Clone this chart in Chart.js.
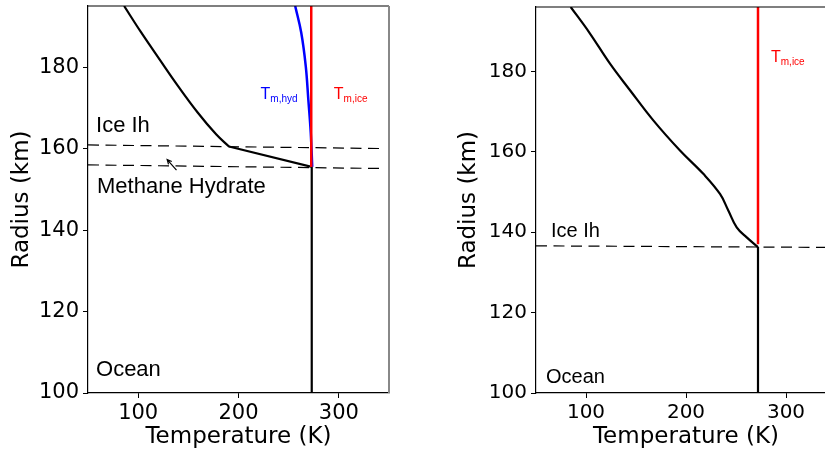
<!DOCTYPE html>
<html>
<head>
<meta charset="utf-8">
<script src="https://cdn.jsdelivr.net/npm/chart.js@4.4.1/dist/chart.umd.min.js"></script>
<style>
body { margin: 0; background: #fff; overflow: hidden; width: 825px; height: 452px; position: relative; }
canvas { position: absolute; top: 0; }
#left { left: 0; }
#right { left: 449px; }
</style>
</head>
<body>
<canvas id="left" width="400" height="452"></canvas>
<canvas id="right" width="387" height="452"></canvas>
<script>
// left panel: ice Ih over a methane hydrate layer
var leftIceT = [86, 103, 121.3, 139.6, 159.5, 177.7, 190.5];
var leftIceR = [195, 188.5, 181.9, 175.4, 168.8, 163.5, 160.5];
var leftHydT = [190.5, 273, 273];
var leftHydR = [160.5, 155.5, 100];
var leftMeltHydT = [256.5, 262.5, 267, 269.6, 272, 273.5];
var leftMeltHydR = [195, 188.5, 180.3, 172, 163.9, 155.5];
var leftMeltIceT = [272.5, 272.5];
var leftMeltIceR = [155.5, 195];
var leftTopBoundT = [50, 346];
var leftTopBoundR = [160.9, 160.0];
var leftLowBoundT = [50, 346];
var leftLowBoundR = [156.0, 155.1];
var leftArrowT = [138.2, 128.9]; // tail, head
var leftArrowR = [154.7, 157.3];

// right panel: ice Ih only
var rightIceT = [84.7, 104, 124, 144, 167.3, 194, 217.3, 234, 242.3, 250.7, 260.7, 272];
var rightIceR = [196, 189.4, 181.9, 175.3, 167.8, 160.3, 154.5, 149.5, 145.4, 141.2, 138.7, 136.3];
var rightOceanT = [272, 272];
var rightOceanR = [136.3, 100];
var rightMeltIceT = [272, 272];
var rightMeltIceR = [137, 196];
var rightBoundT = [50, 350];
var rightBoundR = [136.6, 136.2];

var xTicks = [100, 200, 300];
var yTicks = [100, 120, 140, 160, 180];

function pts(xs, ys) {
    return xs.map(function (x, i) { return { x: x, y: ys[i] }; });
}

function line(xs, ys, color, width, extra) {
    var ds = {
        data: pts(xs, ys),
        showLine: true,
        borderColor: color,
        borderWidth: width,
        pointRadius: 0,
        fill: false,
        tension: 0
    };
    for (var k in extra) ds[k] = extra[k];
    return ds;
}

var smooth = { tension: 0.4 };
var dashed = { borderDash: [11, 6.5] };

var framePlugin = {
    id: 'frame',
    afterDatasetsDraw: function (chart, args, opts) {
        var a = chart.chartArea, ctx = chart.ctx;
        var sx = chart.scales.x, sy = chart.scales.y;
        ctx.save();
        ctx.strokeStyle = '#000';
        ctx.lineWidth = 1.2;
        ctx.beginPath();
        ctx.moveTo(a.left, a.top);
        ctx.lineTo(a.right, a.top);
        ctx.stroke();
        if (opts.rightSpine) {
            ctx.strokeStyle = '#888';
            ctx.lineWidth = 2;
            ctx.beginPath();
            ctx.moveTo(a.right, a.top);
            ctx.lineTo(a.right, a.bottom);
            ctx.stroke();
        }

        (opts.notes || []).forEach(function (n) {
            var px = sx.getPixelForValue(n.x), py = sy.getPixelForValue(n.y);
            ctx.fillStyle = n.color || '#000';
            ctx.textBaseline = 'alphabetic';
            ctx.textAlign = 'left';
            ctx.font = n.size + 'px "Liberation Sans", Arial, sans-serif';
            ctx.fillText(n.text, px, py);
            if (n.sub) {
                var w = ctx.measureText(n.text).width;
                ctx.font = n.subSize + 'px "Liberation Sans", Arial, sans-serif';
                ctx.fillText(n.sub, px + w, py + 3);
            }
        });

        if (opts.arrow) {
            var tx = sx.getPixelForValue(opts.arrow.t[0]), ty = sy.getPixelForValue(opts.arrow.r[0]);
            var hx = sx.getPixelForValue(opts.arrow.t[1]), hy = sy.getPixelForValue(opts.arrow.r[1]);
            var ang = Math.atan2(hy - ty, hx - tx);
            ctx.strokeStyle = '#000';
            ctx.lineWidth = 1.2;
            ctx.beginPath();
            ctx.moveTo(tx, ty);
            ctx.lineTo(hx, hy);
            ctx.moveTo(hx - 5 * Math.cos(ang - 0.45), hy - 5 * Math.sin(ang - 0.45));
            ctx.lineTo(hx, hy);
            ctx.lineTo(hx - 5 * Math.cos(ang + 0.45), hy - 5 * Math.sin(ang + 0.45));
            ctx.stroke();
        }
        ctx.restore();
    }
};

function axes(xMax, yMax, tickSize, yWidth, yTitlePad) {
    var tickFont = { family: '"DejaVu Sans", sans-serif', size: tickSize };
    var titleFont = { family: '"DejaVu Sans", sans-serif', size: 23 };
    return {
        x: {
            type: 'linear', min: 50, max: xMax,
            afterBuildTicks: function (s) { s.ticks = xTicks.map(function (v) { return { value: v }; }); },
            afterFit: function (s) { s.height = 59; s.paddingLeft = 0; s.paddingRight = 0; },
            ticks: { color: '#000', font: tickFont, padding: 3, maxRotation: 0 },
            grid: { display: true, drawOnChartArea: false, tickLength: 5, tickColor: '#000' },
            border: { display: true, color: '#000', width: 1.2 },
            title: { display: true, text: 'Temperature (K)', color: '#000', font: titleFont, padding: { top: 0, bottom: 1 } }
        },
        y: {
            type: 'linear', min: 100, max: yMax,
            afterBuildTicks: function (s) { s.ticks = yTicks.map(function (v) { return { value: v }; }); },
            afterFit: function (s) { s.width = yWidth; s.paddingTop = 0; s.paddingBottom = 0; },
            ticks: { color: '#000', font: tickFont, padding: 4 },
            grid: { display: true, drawOnChartArea: false, tickLength: 5, tickColor: '#000' },
            border: { display: true, color: '#000', width: 1.2 },
            title: { display: true, text: 'Radius (km)', color: '#000', font: titleFont, padding: { top: yTitlePad, bottom: 0 } }
        }
    };
}

new Chart(document.getElementById('left'), {
    type: 'scatter',
    data: {
        datasets: [
            line(leftMeltIceT, leftMeltIceR, '#ff0000', 2.5),
            line(leftMeltHydT, leftMeltHydR, '#0000ff', 2.5, smooth),
            line(leftIceT, leftIceR, '#000', 2.2, smooth),
            line(leftHydT, leftHydR, '#000', 2.2),
            line(leftTopBoundT, leftTopBoundR, '#000', 1.2, dashed),
            line(leftLowBoundT, leftLowBoundR, '#000', 1.2, dashed)
        ]
    },
    options: {
        responsive: false,
        animation: false,
        devicePixelRatio: 1,
        layout: { padding: { top: 6, right: 11, left: 0, bottom: 0 } },
        scales: axes(350, 195, 21, 88, 8),
        plugins: {
            legend: { display: false },
            tooltip: { enabled: false },
            frame: {
                rightSpine: true,
                notes: [
                    { text: 'Ice Ih', x: 58, y: 164, size: 22 },
                    { text: 'Methane Hydrate', x: 59, y: 149, size: 22 },
                    { text: 'Ocean', x: 58, y: 104.2, size: 22 },
                    { text: 'T', sub: 'm,hyd', x: 222, y: 172.2, size: 16, subSize: 10, color: '#0000ff' },
                    { text: 'T', sub: 'm,ice', x: 295, y: 172.2, size: 16, subSize: 10, color: '#ff0000' }
                ],
                arrow: { t: leftArrowT, r: leftArrowR }
            }
        }
    },
    plugins: [framePlugin]
});

new Chart(document.getElementById('right'), {
    type: 'scatter',
    data: {
        datasets: [
            line(rightMeltIceT, rightMeltIceR, '#ff0000', 2.5),
            line(rightIceT, rightIceR, '#000', 2.2, smooth),
            line(rightOceanT, rightOceanR, '#000', 2.2),
            line(rightBoundT, rightBoundR, '#000', 1.2, dashed)
        ]
    },
    options: {
        responsive: false,
        animation: false,
        devicePixelRatio: 1,
        layout: { padding: { top: 7, right: 0, left: 0, bottom: 0 } },
        scales: axes(350, 196, 20, 87, 6),
        plugins: {
            legend: { display: false },
            tooltip: { enabled: false },
            frame: {
                rightSpine: false,
                notes: [
                    { text: 'Ice Ih', x: 65, y: 138.9, size: 20 },
                    { text: 'Ocean', x: 60, y: 102.4, size: 20 },
                    { text: 'T', sub: 'm,ice', x: 285, y: 182.2, size: 16, subSize: 10, color: '#ff0000' }
                ]
            }
        }
    },
    plugins: [framePlugin]
});
</script>
</body>
</html>
